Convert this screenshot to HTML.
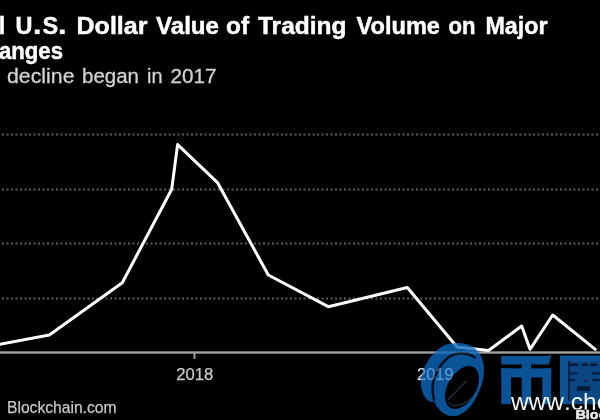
<!DOCTYPE html>
<html>
<head>
<meta charset="utf-8">
<title>Chart</title>
<style>
html,body{margin:0;padding:0;background:#000;}
body{width:600px;height:420px;overflow:hidden;position:relative;font-family:"Liberation Sans",sans-serif;}
svg{position:absolute;left:0;top:0;display:block;will-change:transform;filter:blur(0.4px);}
text{font-family:"Liberation Sans",sans-serif;}
.t{font-weight:bold;font-size:23.5px;fill:#fff;stroke:#fff;stroke-width:0.45px;}
.s{font-size:20px;fill:#d2d2d2;stroke:#d2d2d2;stroke-width:0.3px;}
.ax{font-size:16px;fill:#c8c8c8;stroke:#c8c8c8;stroke-width:0.25px;}
</style>
</head>
<body>
<svg width="600" height="420" viewBox="0 0 600 420">
<defs><filter id="b" x="-5%" y="-5%" width="110%" height="110%"><feGaussianBlur stdDeviation="0.45"/></filter></defs>
<rect x="0" y="0" width="600" height="420" fill="#000"/>

<!-- gridlines -->
<g stroke="#5e5e5e" stroke-width="2" stroke-dasharray="2 2.5" stroke-dashoffset="-2" fill="none">
<line x1="0" y1="134.5" x2="600" y2="134.5"/>
<line x1="0" y1="189.5" x2="600" y2="189.5"/>
<line x1="0" y1="243.5" x2="600" y2="243.5"/>
<line x1="0" y1="298.5" x2="600" y2="298.5"/>
</g>

<!-- axis -->
<rect x="0" y="351.3" width="600" height="2.4" fill="#a0a0a0"/>
<rect x="193.5" y="353" width="2" height="6" fill="#a0a0a0"/>

<!-- title -->
<g class="t">
<text x="-1.2" y="34">l</text>
<text x="15.4" y="34">U</text><text x="42.4" y="34">S</text><rect x="34.8" y="29.5" width="4.9" height="4.6" stroke="none"/><rect x="59.8" y="29.5" width="4.9" height="4.6" stroke="none"/>
<text x="76.5" y="34" textLength="71" lengthAdjust="spacingAndGlyphs">Dollar</text>
<text x="156" y="34" textLength="63" lengthAdjust="spacingAndGlyphs">Value</text>
<text x="226" y="34" textLength="23" lengthAdjust="spacingAndGlyphs">of</text>
<text x="258" y="34" textLength="88.5" lengthAdjust="spacingAndGlyphs">Trading</text>
<text x="356.5" y="34" textLength="83.5" lengthAdjust="spacingAndGlyphs">Volume</text>
<text x="448.5" y="34" textLength="27" lengthAdjust="spacingAndGlyphs">on</text>
<text x="485.5" y="34" textLength="62" lengthAdjust="spacingAndGlyphs">Major</text>
<text x="-1" y="59" textLength="64" lengthAdjust="spacingAndGlyphs">anges</text>
</g>
<g class="s">
<text x="7" y="83.3" textLength="67.5" lengthAdjust="spacingAndGlyphs">decline</text>
<text x="82" y="83.3" textLength="57" lengthAdjust="spacingAndGlyphs">began</text>
<text x="147" y="83.3" textLength="15.5" lengthAdjust="spacingAndGlyphs">in</text>
<text x="170.5" y="83.3" textLength="46" lengthAdjust="spacingAndGlyphs">2017</text>
</g>

<!-- axis labels -->
<g class="ax">
<text x="176.3" y="380" textLength="37" lengthAdjust="spacingAndGlyphs">2018</text>
<text x="7" y="413" textLength="109.5" lengthAdjust="spacingAndGlyphs" style="font-size:16.5px">Blockchain.com</text>
</g>

<!-- data line -->
<polyline fill="none" stroke="#fff" stroke-width="3" stroke-linejoin="round" stroke-linecap="round"
points="-4,345.1 49.3,335 122.3,282.7 171.7,189.3 177.6,144.6 217.3,182.3 268.3,275 328.3,306.7 407.3,287.5 457,347 488.5,350.5 521.7,326 530,349.3 552.7,315 595.3,349.3"/>

<!-- 2019 label (under watermark) -->
<text class="ax" x="417" y="380.3" textLength="36.5" lengthAdjust="spacingAndGlyphs">2019</text>
<!-- watermark -->
<g opacity="0.8" filter="url(#b)">
 <!-- coin logo -->
 <path fill="#1167bd" d="M431.0 356.5 C432.2 355.0 433.7 353.8 435.0 352.5 C436.3 351.2 437.2 349.8 439.0 348.5 C440.8 347.2 443.5 345.7 446.0 344.8 C448.5 343.9 451.3 343.4 454.0 343.2 C456.7 342.9 459.5 343.0 462.0 343.3 C464.5 343.6 466.8 344.1 469.0 345.0 C471.2 345.9 473.2 347.0 475.0 348.5 C476.8 350.0 478.7 351.8 480.0 354.0 C481.3 356.2 482.3 359.3 483.0 362.0 C483.7 364.7 484.1 366.7 484.0 370.0 C483.9 373.3 483.7 377.7 482.5 382.0 C481.3 386.3 479.2 391.7 477.0 396.0 C474.8 400.3 472.0 404.8 469.0 408.0 C466.0 411.2 462.0 413.7 459.0 415.0 C456.0 416.3 453.7 416.3 451.0 416.0 C448.3 415.7 445.3 414.6 443.0 413.0 C440.7 411.4 438.5 408.3 437.0 406.5 C435.5 404.7 435.2 402.8 434.0 402.0 C432.8 401.2 431.4 402.2 430.0 401.5 C428.6 400.8 426.9 399.9 425.5 398.0 C424.1 396.1 422.6 393.0 421.8 390.0 C421.0 387.0 420.6 383.3 420.8 380.0 C421.1 376.7 422.2 373.1 423.3 370.0 C424.4 366.9 426.2 363.9 427.5 361.7 C428.8 359.4 429.8 358.0 431.0 356.5 Z"/>
 <path fill="none" stroke="#031226" stroke-width="2.5" stroke-linecap="round" d="M434.0 400.0 C433.8 398.3 432.6 393.6 432.6 390.0 C432.6 386.4 432.8 382.2 434.0 378.3 C435.2 374.4 438.2 369.7 440.0 366.7 C441.8 363.7 443.2 362.3 445.0 360.5 C446.8 358.7 448.3 356.9 450.8 355.8 C453.3 354.7 457.1 353.9 460.0 353.6 C462.9 353.3 465.5 353.4 468.0 354.0 C470.5 354.6 473.8 356.9 475.0 357.5"/>
 <ellipse cx="462" cy="387.5" rx="14.2" ry="23.4" transform="rotate(30 462 387.5)" fill="#000"/>
 <line x1="447.6" y1="400" x2="466.4" y2="381" stroke="#5f86b5" stroke-width="1" opacity="0.85"/>
 <path d="M448 402 C452.5 408.5 466 406 476 393" fill="none" stroke="#5f86b5" stroke-width="1" opacity="0.6"/>
 <!-- bi -->
 <g fill="#1167bd">
  <path d="M501.3 356 H547 L551.2 355 L549 364.6 H501.3 Z"/>
  <rect x="501.3" y="368.4" width="49.9" height="9"/>
  <rect x="501.3" y="368.4" width="9.7" height="35.8"/>
  <rect x="521.7" y="356" width="9.4" height="48.2"/>
  <rect x="542.4" y="368.4" width="8.8" height="35.8"/>
 </g>
 <!-- quan -->
 <rect x="560" y="355.5" width="40" height="48.7" fill="#1167bd"/>
 <rect x="569.8" y="361.2" width="30.2" height="43" fill="#04244a" opacity="0.22"/>
 <g fill="#04244a">
  <rect x="568" y="361" width="1.8" height="40"/>
  <rect x="569" y="363.4" width="9" height="2.6"/>
  <rect x="581.7" y="363.4" width="6.3" height="2.6"/>
  <rect x="590" y="363.4" width="7" height="2.6"/>
  <rect x="569" y="372.4" width="8.7" height="2"/>
  <rect x="592" y="372.4" width="8" height="2"/>
  <rect x="568.6" y="378.9" width="6.8" height="2.2"/>
  <rect x="592.6" y="378.9" width="7.4" height="2.2"/>
  <path d="M584 381.7 L585.7 378.7 L587.4 381.7 Z"/>
  <rect x="577" y="386.3" width="13" height="4.6"/>
 </g>
</g>
<text class="ax" x="417" y="380.3" textLength="36.5" lengthAdjust="spacingAndGlyphs" style="fill:#cfe0f2;stroke:none" opacity="0.28">2019</text>
<text x="510.9" y="409.9" font-size="24.5" fill="#f2f5f9" style="font-kerning:none">www.che</text>
<text x="575.4" y="419" font-size="13" font-weight="bold" fill="#e2e2e2" stroke="#141414" stroke-width="1.6" paint-order="stroke" textLength="76.2" lengthAdjust="spacingAndGlyphs">Bloomberg</text>
<text x="575.4" y="419" font-size="13" font-weight="bold" fill="#e2e2e2" stroke="#e2e2e2" stroke-width="0.35" textLength="76.2" lengthAdjust="spacingAndGlyphs">Bloomberg</text>

</svg>
</body>
</html>
